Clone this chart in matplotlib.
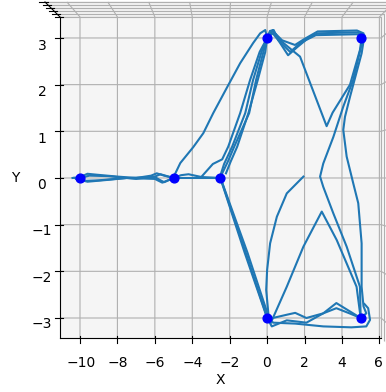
import matplotlib
matplotlib.use("Agg")
import matplotlib.pyplot as plt
import numpy as np
from mpl_toolkits.mplot3d import proj3d

# Waypoints visited by the robot (x, y)
waypoint_x = [-10, -5, -2.5, 0, 5, 0, 5]
waypoint_y = [0, 0, 0, 3, 3, -3, -3]

# Recorded trajectory segments, (x, y) samples
path_h1 = [(-10.4, 0.0), (-10.0, 0.02), (-9.6, 0.09), (-9.1, 0.07), (-8.0, 0.03), (-7.0, 0.0),
           (-6.2, 0.05), (-5.9, 0.1), (-5.5, 0.05), (-5.0, 0.0), (-4.6, 0.06), (-4.2, 0.08),
           (-3.5, 0.02), (-2.5, 0.0)]
path_h2 = [(-10.3, 0.0), (-9.7, -0.06), (-9.0, -0.05), (-7.5, 0.0), (-6.0, -0.02), (-5.6, -0.1),
           (-5.3, -0.05), (-5.0, 0.0), (-4.0, 0.0), (-2.5, 0.0)]
path_h3 = [(-10.0, 0.0), (-9.5, 0.05), (-8.5, 0.04), (-7.0, -0.02), (-6.0, 0.03), (-5.7, 0.08),
           (-5.0, 0.0)]
path_h4 = [(-10.2, -0.02), (-9.6, -0.08), (-8.5, -0.04), (-7.5, 0.0), (-6.0, 0.02), (-5.7, -0.05),
           (-5.5, -0.09), (-5.0, 0.0)]
path_b = [(-5.0, 0.02), (-4.64, 0.32), (-3.95, 0.66), (-3.41, 0.96), (-2.88, 1.39), (-2.13, 1.95),
          (-1.44, 2.46), (-0.75, 2.89), (-0.37, 3.1), (-0.1, 3.17), (0.0, 3.0)]
path_c1 = [(-3.5, 0.03), (-2.9, 0.3), (-2.4, 0.4), (-2.08, 0.67), (-1.44, 1.39), (-0.91, 2.1),
           (-0.4, 2.7), (0.0, 3.0)]
path_c2 = [(-2.5, 0.05), (-2.3, 0.3), (-1.87, 0.67), (-1.17, 1.39), (-0.75, 2.1), (-0.3, 2.7),
           (0.0, 3.0)]
path_c3 = [(-2.4, 0.1), (-2.1, 0.35), (-1.76, 0.67), (-0.96, 1.39), (-0.59, 2.1), (-0.2, 2.7),
           (0.0, 3.0)]
path_c4 = [(-2.2, 0.1), (-1.95, 0.35), (-1.6, 0.67), (-1.0, 1.39), (-0.5, 2.1), (-0.1, 2.7),
           (0.0, 3.0)]
path_d1 = [(0.0, 3.0), (0.15, 3.15), (0.35, 3.17), (0.6, 2.95), (1.12, 2.63), (1.6, 2.8),
           (2.2, 3.0), (2.7, 3.1), (4.8, 3.12), (5.1, 3.08), (5.2, 3.0)]
path_d2 = [(0.0, 3.0), (0.3, 3.1), (0.6, 2.95), (1.23, 2.7), (1.8, 2.9), (2.6, 3.06), (4.8, 3.08),
           (5.2, 3.0)]
path_d3 = [(0.0, 3.0), (0.3, 3.15), (0.8, 2.95), (1.49, 2.85), (2.0, 2.98), (2.7, 3.14),
           (4.8, 3.16), (5.15, 3.1), (5.2, 3.0)]
path_e = [(0.0, 3.0), (0.3, 3.17), (0.7, 2.95), (1.3, 2.75), (1.76, 2.6), (3.18, 1.11),
          (3.5, 1.4), (4.43, 2.0), (4.96, 2.74), (5.05, 3.0)]
path_f = [(5.2, 3.05), (5.05, 2.67), (4.43, 1.74), (4.16, 1.31), (4.07, 1.03), (4.25, 0.46),
          (4.6, -0.11), (4.87, -0.54), (5.05, -1.4), (5.05, -2.33), (5.15, -2.75), (5.3, -2.9),
          (5.0, -3.0)]
path_g = [(5.1, 2.95), (4.6, 2.1), (4.07, 1.53), (3.54, 0.88), (3.0, 0.31), (2.83, 0.03),
          (3.0, -0.19), (3.54, -0.76), (4.25, -1.47), (4.96, -2.33), (5.0, -3.0)]
path_h = [(-2.5, 0.0), (-1.2, -1.6), (0.0, -3.0)]
path_h_b = [(-2.45, -0.05), (-1.1, -1.65), (0.05, -3.05)]
path_h_c = [(-2.4, -0.1), (-1.05, -1.6), (0.1, -3.0)]
path_i = [(0.1, -3.05), (-0.05, -2.4), (0.0, -1.97), (0.16, -1.4), (0.52, -0.83), (1.05, -0.33),
          (1.94, 0.03)]
path_j = [(0.2, -3.1), (1.05, -2.33), (1.94, -1.47), (2.92, -0.72), (3.72, -1.33), (4.78, -2.33),
          (5.0, -3.0)]
path_k1 = [(0.0, -3.0), (0.25, -3.18), (1.05, -3.05), (2.1, -3.1), (3.0, -2.9), (3.7, -2.68),
           (4.43, -2.86), (5.0, -3.0)]
path_k2 = [(0.0, -3.0), (0.3, -3.0), (1.05, -2.93), (1.5, -2.89), (2.1, -3.0), (3.0, -2.9),
           (3.7, -2.79), (4.4, -2.9), (5.0, -3.0)]
path_k3 = [(0.1, -3.0), (0.32, -3.1), (1.5, -3.12), (3.0, -3.18), (4.5, -3.2), (5.3, -3.18),
           (5.5, -3.04), (5.4, -2.79), (5.2, -2.7)]

paths = [path_h1, path_h2, path_h3, path_h4, path_b, path_c1, path_c2, path_c3, path_c4,
         path_d1, path_d2, path_d3, path_e, path_f, path_g, path_h, path_h_b, path_h_c,
         path_i, path_j, path_k1, path_k2, path_k3]

W, H = 386, 392
fig = plt.figure(figsize=(W / 100, H / 100), dpi=100)
rect_px = [-47.6, -57.5, 525.0, 525.0]  # left, bottom, width, height in pixels
ax = fig.add_axes([rect_px[0] / W, rect_px[1] / H, rect_px[2] / W, rect_px[3] / H],
                  projection="3d")
ax.computed_zorder = False

for p in paths:
    xs, ys = zip(*p)
    ax.plot(xs, ys, np.zeros(len(xs)), color="#1f77b4", lw=1.5, zorder=1)

ax.scatter(waypoint_x, waypoint_y, np.zeros(len(waypoint_x)), color="blue", s=40,
           depthshade=False, zorder=3, alpha=1)

ax.set_xlim(-11.07, 6.09)
ax.set_ylim(-3.43, 3.45)
ax.set_zlim(0, 1)
ax.set_zticklabels([])
ax.set_xlabel("X", labelpad=6)
ax.set_ylabel("Y", labelpad=8)
ax.view_init(elev=90, azim=-90)


def floor_px(x, y):
    """Pixel position (from top-left) of a point on the z=0 plane."""
    u, v, _ = proj3d.proj_transform(x, y, 0.0, ax.M)
    px, py = ax.transData.transform((u, v))
    return px, H - py


# Place the plot so the x=-10 / x=4 and y=3 / y=-3 grid lines land on chosen pixels
fig.canvas.draw()
x0, y0 = floor_px(-10, -3)
x1, y1 = floor_px(4, 3)
s = 0.5 * ((342 - 80) / (x1 - x0) + (318 - 38) / (y0 - y1))
cx = rect_px[0] + rect_px[2] / 2
cy = H - (rect_px[1] + rect_px[3] / 2)
ncx = 80 - s * (x0 - cx)
ncy = 318 - s * (y0 - cy)
size = rect_px[2] * s
ax.set_position([(ncx - size / 2) / W, (H - ncy - size / 2) / H, size / W, size / H])

fig.savefig("out.png", dpi=100)
